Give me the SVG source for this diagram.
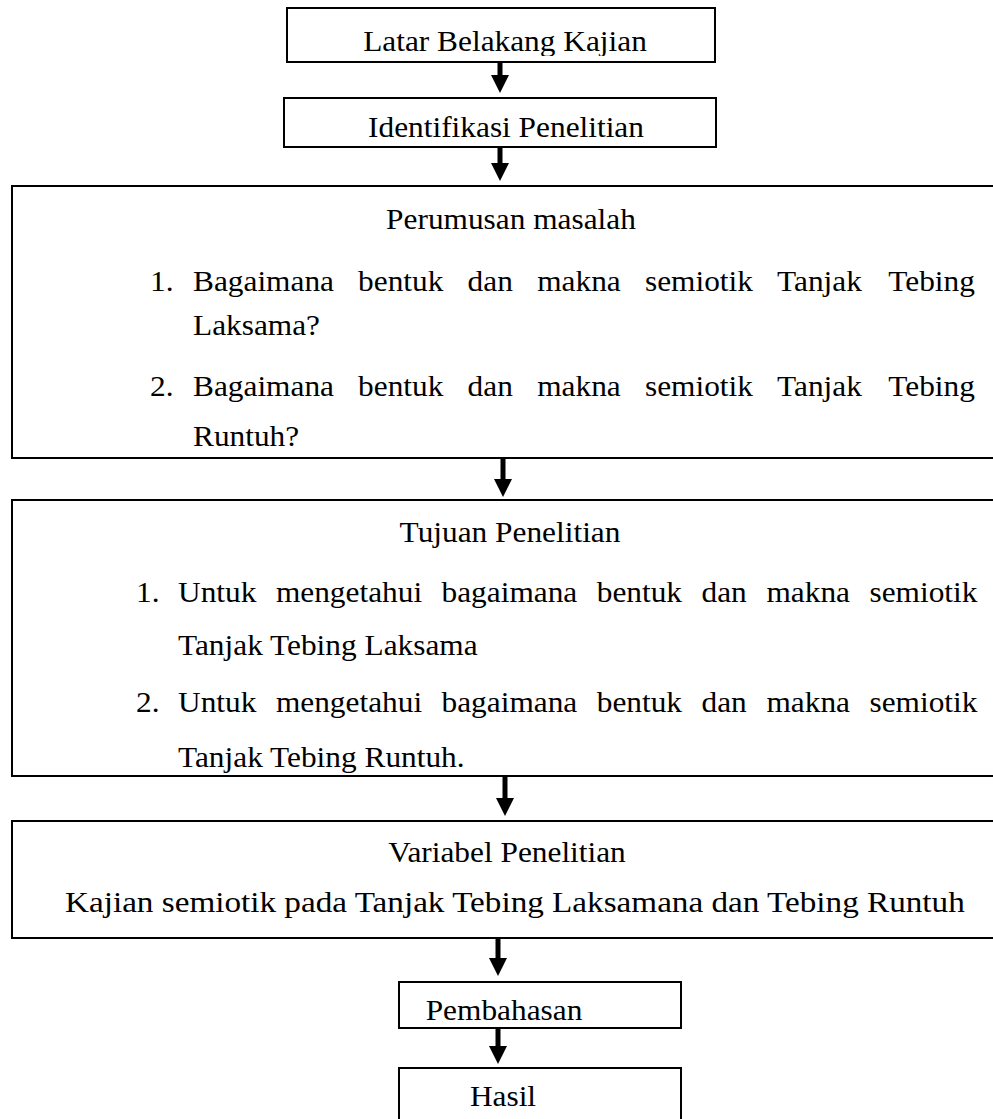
<svg xmlns="http://www.w3.org/2000/svg" width="993" height="1119" viewBox="0 0 993 1119">
<style>
.box{fill:#fff;stroke:#000;stroke-width:2}
.t{font-family:"Liberation Serif","Times New Roman",serif;font-size:30px;fill:#000}
.c{text-anchor:middle}
.arr{stroke:#000;stroke-width:5;fill:none}
</style>
<defs>
<marker id="ah" markerUnits="userSpaceOnUse" markerWidth="18" markerHeight="18" refX="0" refY="9" orient="auto" viewBox="0 0 18 18"><path d="M0,0 L18,9 L0,18 Z" fill="#000"/></marker>
<clipPath id="cp1" clipPathUnits="userSpaceOnUse"><rect x="287" y="8" width="428" height="48"/></clipPath>
<clipPath id="cp4" clipPathUnits="userSpaceOnUse"><rect x="12" y="500" width="1000" height="274"/></clipPath>
<clipPath id="cp6" clipPathUnits="userSpaceOnUse"><rect x="399" y="982" width="282" height="43"/></clipPath>
</defs>
<rect width="993" height="1119" fill="#fff"/>

<g id="connectors">
<line class="arr" x1="500" y1="62" x2="500" y2="75" marker-end="url(#ah)"/>
<line class="arr" x1="500" y1="147" x2="500" y2="163" marker-end="url(#ah)"/>
<line class="arr" x1="503" y1="458" x2="503" y2="479" marker-end="url(#ah)"/>
<line class="arr" x1="505" y1="776" x2="505" y2="798" marker-end="url(#ah)"/>
<line class="arr" x1="498" y1="938" x2="498" y2="958" marker-end="url(#ah)"/>
<line class="arr" x1="498" y1="1028" x2="498" y2="1046" marker-end="url(#ah)"/>
</g>

<g id="latar">
<rect class="box" x="287" y="8" width="428" height="54"/>
<g clip-path="url(#cp1)">
<text class="t c" transform="translate(505 51) scale(1.045 1)">Latar Belakang Kajian</text>
</g>
</g>

<g id="identifikasi">
<rect class="box" x="284" y="98" width="432" height="49"/>
<text class="t c" transform="translate(506 137) scale(1.045 1)">Identifikasi Penelitian</text>
</g>

<g id="perumusan">
<rect class="box" x="12" y="186" width="1000" height="272"/>
<text class="t c" transform="translate(511 229) scale(1.045 1)">Perumusan masalah</text>
<text class="t" transform="translate(150 291) scale(1.045 1)">1.</text>
<text class="t" transform="translate(193 291) scale(1.045 1)"><tspan x="0">Bagaimana</tspan><tspan x="158.0">bentuk</tspan><tspan x="262.8">dan</tspan><tspan x="329.4">makna</tspan><tspan x="432.5">semiotik</tspan><tspan x="558.9">Tanjak</tspan><tspan x="665.4">Tebing</tspan></text>
<text class="t" transform="translate(193 335) scale(1.045 1)">Laksama?</text>
<text class="t" transform="translate(150 396) scale(1.045 1)">2.</text>
<text class="t" transform="translate(193 396) scale(1.045 1)"><tspan x="0">Bagaimana</tspan><tspan x="158.0">bentuk</tspan><tspan x="262.8">dan</tspan><tspan x="329.4">makna</tspan><tspan x="432.5">semiotik</tspan><tspan x="558.9">Tanjak</tspan><tspan x="665.4">Tebing</tspan></text>
<text class="t" transform="translate(193 446) scale(1.045 1)">Runtuh?</text>
</g>

<g id="tujuan">
<rect class="box" x="12" y="500" width="1000" height="276"/>
<g clip-path="url(#cp4)">
<text class="t c" transform="translate(510 542) scale(1.045 1)">Tujuan Penelitian</text>
<text class="t" transform="translate(136 602) scale(1.045 1)">1.</text>
<text class="t" transform="translate(178 602) scale(1.045 1)"><tspan x="0">Untuk</tspan><tspan x="93.7">mengetahui</tspan><tspan x="252.2">bagaimana</tspan><tspan x="400.7">bentuk</tspan><tspan x="501.0">dan</tspan><tspan x="563.1">makna</tspan><tspan x="661.7">semiotik</tspan></text>
<text class="t" transform="translate(178 655) scale(1.045 1)">Tanjak Tebing Laksama</text>
<text class="t" transform="translate(136 712) scale(1.045 1)">2.</text>
<text class="t" transform="translate(178 712) scale(1.045 1)"><tspan x="0">Untuk</tspan><tspan x="93.7">mengetahui</tspan><tspan x="252.2">bagaimana</tspan><tspan x="400.7">bentuk</tspan><tspan x="501.0">dan</tspan><tspan x="563.1">makna</tspan><tspan x="661.7">semiotik</tspan></text>
<text class="t" transform="translate(178 767) scale(1.045 1)">Tanjak Tebing Runtuh.</text>
</g>
</g>

<g id="variabel">
<rect class="box" x="12" y="821" width="1000" height="117"/>
<text class="t c" transform="translate(507 862) scale(1.045 1)">Variabel Penelitian</text>
<text class="t" transform="translate(65 912) scale(1.045 1)" textLength="861" lengthAdjust="spacingAndGlyphs">Kajian semiotik pada Tanjak Tebing Laksamana dan Tebing Runtuh</text>
</g>

<g id="pembahasan">
<rect class="box" x="399" y="982" width="282" height="46"/>
<g clip-path="url(#cp6)">
<text class="t c" transform="translate(504 1020) scale(1.045 1)">Pembahasan</text>
</g>
</g>

<g id="hasil">
<rect class="box" x="399" y="1068" width="282" height="60"/>
<text class="t c" transform="translate(503 1106) scale(1.045 1)">Hasil</text>
</g>
</svg>
